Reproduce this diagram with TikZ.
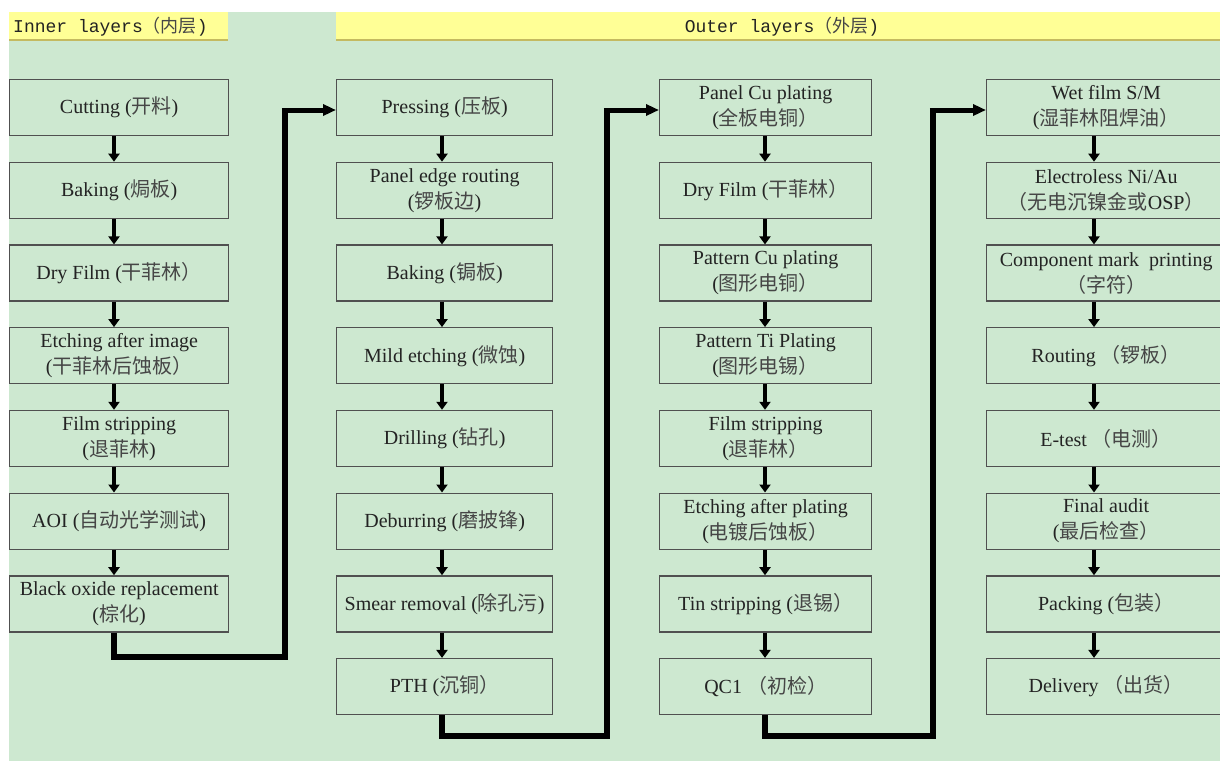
\documentclass[tikz,border=0pt]{standalone}
\usepackage{fontspec}
\setmainfont{Liberation Serif}
\newfontfamily\cjkf{Noto Sans CJK SC}
\newfontfamily\monof{Liberation Mono}
\usetikzlibrary{arrows.meta}
\definecolor{bg}{RGB}{205,232,208}
\definecolor{hdr}{RGB}{255,255,150}
\definecolor{hdrline}{RGB}{196,186,96}
\definecolor{boxc}{RGB}{80,80,80}
\definecolor{txt}{RGB}{35,35,35}
\definecolor{cjkgray}{RGB}{70,70,70}
\newcommand\zh[1]{{\cjkf\color{cjkgray}#1}}
\begin{document}
\begin{tikzpicture}[x=1pt,y=-1pt,
  box/.style={draw=boxc, line width=1.3pt, fill=bg, align=center, inner sep=0pt,
    anchor=north west, minimum height=56pt, text=txt,
    font=\fontsize{20}{26}\selectfont},
  hdrtext/.style={font=\monof\fontsize{18}{20}\selectfont, text=txt, inner sep=0pt},
  conn/.style={line width=6.5pt, line join=miter},
  harrow/.style={line width=5pt, -{Triangle[length=13pt,width=11pt]}},
  sarrow/.style={line width=4pt, -{Triangle[length=8pt,width=11pt]}}]
\useasboundingbox (0,0) rectangle (1220,761);
\begin{scope}
\clip (0,0) rectangle (1220,761);
\fill[white] (0,0) rectangle (1220,761);
\fill[bg] (9,12) rectangle (1220,761);
% header bars
\fill[hdr] (9,12) rectangle (228,40);
\draw[hdrline, line width=2pt] (9,39.5) -- (228,39.5);
\fill[hdr] (336,12) rectangle (1220,40);
\draw[hdrline, line width=2pt] (336,39.5) -- (1220,39.5);
\node[hdrtext, anchor=west] (h1) at (13,27) {Inner layers\zh{（内层}\monof)};
\node[hdrtext] (h2) at (782,27) {Outer layers\zh{（外层}\monof)};

% column arrow x positions
\coordinate (x1) at (114,0);
\coordinate (x2) at (442,0);
\coordinate (x3) at (765,0);
\coordinate (x4) at (1094,0);

% connector corners
\coordinate (j1) at (285,657);
\coordinate (k1) at (285,110);
\coordinate (j2) at (607,736);
\coordinate (k2) at (607,110);
\coordinate (j3) at (933,736);
\coordinate (k3) at (933,110);

% column 1
\node[box, minimum width=219pt] (a1) at (9,79) {Cutting (\zh{开料})};
\node[box, minimum width=219pt] (a2) at (9,161.7) {Baking (\zh{焗板})};
\node[box, minimum width=219pt] (a3) at (9,244.4) {Dry Film (\zh{干菲林）}};
\node[box, minimum width=219pt] (a4) at (9,327.1) {Etching after image\\(\zh{干菲林后蚀板）}};
\node[box, minimum width=219pt] (a5) at (9,409.8) {Film stripping\\(\zh{退菲林})};
\node[box, minimum width=219pt] (a6) at (9,492.5) {AOI (\zh{自动光学测试})};
\node[box, minimum width=219pt] (a7) at (9,575.2) {Black oxide replacement\\(\zh{棕化})};

% column 2
\node[box, minimum width=216pt] (b1) at (336,79) {Pressing (\zh{压板})};
\node[box, minimum width=216pt] (b2) at (336,161.7) {Panel edge routing\\(\zh{锣板边})};
\node[box, minimum width=216pt] (b3) at (336,244.4) {Baking (\zh{锔板})};
\node[box, minimum width=216pt] (b4) at (336,327.1) {Mild etching (\zh{微蚀})};
\node[box, minimum width=216pt] (b5) at (336,409.8) {Drilling (\zh{钻孔})};
\node[box, minimum width=216pt] (b6) at (336,492.5) {Deburring (\zh{磨披锋})};
\node[box, minimum width=216pt] (b7) at (336,575.2) {Smear removal (\zh{除孔污})};
\node[box, minimum width=216pt] (b8) at (336,657.9) {PTH (\zh{沉铜）}};

% column 3
\node[box, minimum width=212pt] (c1) at (659,79) {Panel Cu plating\\(\zh{全板电铜）}};
\node[box, minimum width=212pt] (c2) at (659,161.7) {Dry Film (\zh{干菲林）}};
\node[box, minimum width=212pt] (c3) at (659,244.4) {Pattern Cu plating\\(\zh{图形电铜）}};
\node[box, minimum width=212pt] (c4) at (659,327.1) {Pattern Ti Plating\\(\zh{图形电锡）}};
\node[box, minimum width=212pt] (c5) at (659,409.8) {Film stripping\\(\zh{退菲林）}};
\node[box, minimum width=212pt] (c6) at (659,492.5) {Etching after plating\\(\zh{电镀后蚀板）}};
\node[box, minimum width=212pt] (c7) at (659,575.2) {Tin stripping (\zh{退锡）}};
\node[box, minimum width=212pt] (c8) at (659,657.9) {QC1 \zh{（初检）}};

% column 4
\node[box, minimum width=239pt] (d1) at (986,79) {Wet film S/M\\(\zh{湿菲林阻焊油）}};
\node[box, minimum width=239pt] (d2) at (986,161.7) {Electroless Ni/Au\\\zh{（无电沉镍金或}OSP\zh{）}};
\node[box, minimum width=239pt] (d3) at (986,244.4) {Component mark\ \ printing\\\zh{（字符）}};
\node[box, minimum width=239pt] (d4) at (986,327.1) {Routing \zh{（锣板）}};
\node[box, minimum width=239pt] (d5) at (986,409.8) {E-test \zh{（电测）}};
\node[box, minimum width=239pt] (d6) at (986,492.5) {Final audit\\(\zh{最后检查）}};
\node[box, minimum width=239pt] (d7) at (986,575.2) {Packing (\zh{包装）}};
\node[box, minimum width=239pt] (d8) at (986,657.9) {Delivery \zh{（出货）}};

% arrows within columns
\foreach \p/\q in {a1/a2,a2/a3,a3/a4,a4/a5,a5/a6,a6/a7}
  \draw[sarrow] (\p.south -| x1) -- (\q.north -| x1);
\foreach \p/\q in {b1/b2,b2/b3,b3/b4,b4/b5,b5/b6,b6/b7,b7/b8}
  \draw[sarrow] (\p.south -| x2) -- (\q.north -| x2);
\foreach \p/\q in {c1/c2,c2/c3,c3/c4,c4/c5,c5/c6,c6/c7,c7/c8}
  \draw[sarrow] (\p.south -| x3) -- (\q.north -| x3);
\foreach \p/\q in {d1/d2,d2/d3,d3/d4,d4/d5,d5/d6,d6/d7,d7/d8}
  \draw[sarrow] (\p.south -| x4) -- (\q.north -| x4);

% connectors between columns
\draw[conn] (a7.south -| x1) |- (j1) -- (k1);
\draw[harrow] ([xshift=-3.25pt]k1) -- (b1.west |- k1);
\draw[conn] (b8.south -| x2) |- (j2) -- (k2);
\draw[harrow] ([xshift=-3.25pt]k2) -- (c1.west |- k2);
\draw[conn] (c8.south -| x3) |- (j3) -- (k3);
\draw[harrow] ([xshift=-3.25pt]k3) -- (d1.west |- k3);
\end{scope}
\end{tikzpicture}
\end{document}
